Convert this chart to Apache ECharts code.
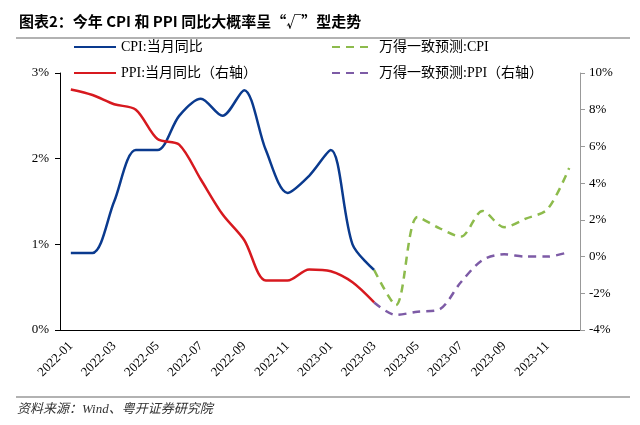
<!DOCTYPE html>
<html>
<head>
<meta charset="utf-8">
<script src="https://cdn.jsdelivr.net/npm/echarts@6/dist/echarts.min.js"></script>
<style>html,body{margin:0;padding:0;background:#fff;}#c{width:640px;height:425px;}</style>
</head>
<body>
<div id="c"></div>
<script>
const categories = ['2022-01','2022-02','2022-03','2022-04','2022-05','2022-06','2022-07','2022-08','2022-09','2022-10','2022-11','2022-12',
  '2023-01','2023-02','2023-03','2023-04','2023-05','2023-06','2023-07','2023-08','2023-09','2023-10','2023-11','2023-12'];
const cpiActual = [0.9,0.9,1.5,2.1,2.1,2.5,2.7,2.5,2.8,2.1,1.6,1.8,2.1,1.0,0.7,null,null,null,null,null,null,null,null,null];
const ppiActual = [9.1,8.8,8.3,8.0,6.4,6.1,4.2,2.3,0.9,-1.3,-1.3,-0.7,-0.8,-1.4,-2.5,null,null,null,null,null,null,null,null,null];
const cpiForecast = [null,null,null,null,null,null,null,null,null,null,null,null,null,null,0.7,0.29,1.32,1.19,1.09,1.39,1.2,1.3,1.41,1.89];
const ppiForecast = [null,null,null,null,null,null,null,null,null,null,null,null,null,null,-2.5,-3.18,-3.0,-2.88,-1.4,-0.19,0.12,0.0,0.0,0.25];
const leftTicks = {min:0, max:3, interval:1};
const rightTicks = {min:-4, max:10, interval:2};

const serif = "'Liberation Serif','Noto Sans CJK SC',serif";
const chart = echarts.init(document.getElementById('c'), null, {renderer:'canvas'});
const legendCommon = {orient:'vertical', itemGap:12, itemWidth:42, itemHeight:14, padding:0,
  textStyle:{fontFamily:serif, fontSize:14, color:'#000'},
  itemStyle:{opacity:0}};
chart.setOption({
  backgroundColor:'#fff',
  animation:false,
  title:{
    text:'图表2：今年 CPI 和 PPI 同比大概率呈“√”型走势',
    left:14, top:9,
    textStyle:{fontFamily:"'Noto Sans CJK SC',sans-serif", fontWeight:'bold', fontSize:15, color:'#000'}
  },
  graphic:[
    {type:'line', shape:{x1:16,y1:38,x2:630,y2:38}, style:{stroke:'#999',lineWidth:1.5}},
    {type:'line', shape:{x1:16,y1:397,x2:630,y2:397}, style:{stroke:'#999',lineWidth:1.5}},
    {type:'text', left:17, top:403, style:{text:'资料来源：Wind、粤开证券研究院', font:"italic 13px 'Liberation Serif','Noto Sans CJK SC',serif", fill:'#333'}}
  ],
  legend:[
    Object.assign({left:73, top:40, data:['CPI:当月同比','PPI:当月同比（右轴）']}, legendCommon),
    Object.assign({left:331, top:40, data:['万得一致预测:CPI','万得一致预测:PPI（右轴）']}, legendCommon)
  ],
  grid:{left:60, right:60, top:73, bottom:95},
  xAxis:{
    type:'category', data:categories, boundaryGap:true,
    axisLine:{lineStyle:{color:'#000',width:1}},
    axisTick:{interval:1, length:5, lineStyle:{color:'#000'}},
    axisLabel:{interval:1, rotate:45, fontFamily:serif, fontSize:13, color:'#000', margin:14}
  },
  yAxis:[
    {type:'value', min:leftTicks.min, max:leftTicks.max, interval:leftTicks.interval, position:'left',
     axisLine:{show:true, lineStyle:{color:'#000'}}, axisTick:{show:true, length:5, lineStyle:{color:'#000'}},
     splitLine:{show:false},
     axisLabel:{formatter:'{value}%', fontFamily:serif, fontSize:13, color:'#000', margin:11}},
    {type:'value', min:rightTicks.min, max:rightTicks.max, interval:rightTicks.interval, position:'right',
     axisLine:{show:true, lineStyle:{color:'#999'}}, axisTick:{show:true, length:5, lineStyle:{color:'#999'}},
     splitLine:{show:false},
     axisLabel:{formatter:'{value}%', fontFamily:serif, fontSize:13, color:'#000', margin:9}}
  ],
  series:[
    {name:'CPI:当月同比', type:'line', yAxisIndex:0, data:cpiActual, smooth:0.3, symbol:'none', connectNulls:false,
     lineStyle:{color:'#0A3A8E', width:2.5}, itemStyle:{color:'#0A3A8E'}},
    {name:'PPI:当月同比（右轴）', type:'line', yAxisIndex:1, data:ppiActual, smooth:0.3, symbol:'none',
     lineStyle:{color:'#D7191F', width:2.5}, itemStyle:{color:'#D7191F'}},
    {name:'万得一致预测:CPI', type:'line', yAxisIndex:0, data:cpiForecast, smooth:0.3, symbol:'none',
     lineStyle:{color:'#8DBB4C', width:2.5, type:[8,6]}, itemStyle:{color:'#8DBB4C'}},
    {name:'万得一致预测:PPI（右轴）', type:'line', yAxisIndex:1, data:ppiForecast, smooth:0.3, symbol:'none',
     lineStyle:{color:'#7D5BA6', width:2.5, type:[8,6]}, itemStyle:{color:'#7D5BA6'}}
  ]
});
</script>
</body>
</html>
